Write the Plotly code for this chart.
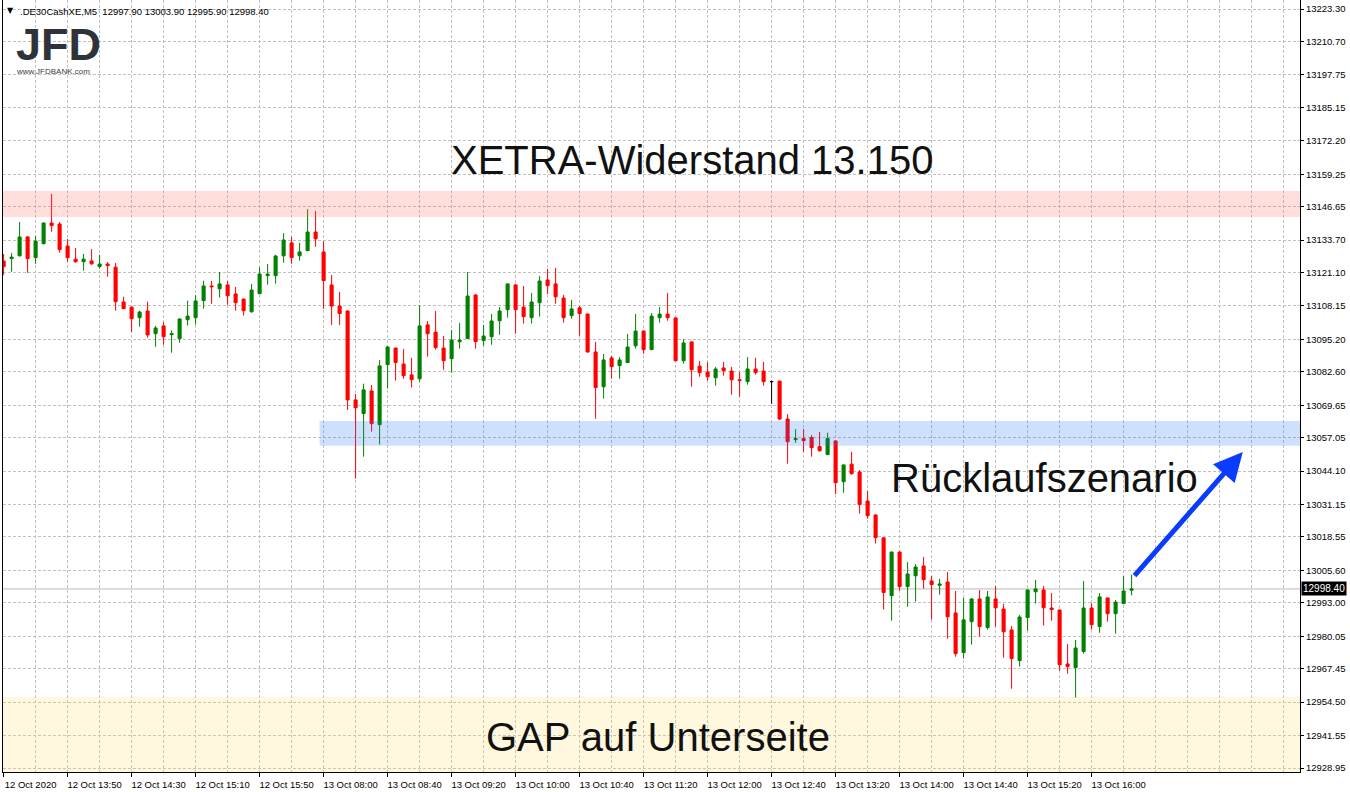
import plotly.graph_objects as go

# ---------------- data ----------------
opens = [13125.6, 13126.5, 13127.6, 13134.9, 13126.9, 13132.3, 13140.3, 13139.9, 13131.4, 13126.3,
         13125.3, 13125.6, 13123.4, 13124.4, 13123.2, 13109.7, 13107.7, 13103.6, 13106.2, 13097.4,
         13100.4, 13097.0, 13095.5, 13102.8, 13103.6, 13110.2, 13115.9, 13114.8, 13116.3, 13112.8,
         13110.8, 13105.9, 13112.9, 13119.9, 13119.9, 13127.6, 13132.6, 13127.6, 13129.6, 13136.8,
         13129.1, 13116.3, 13108.1, 13106.2, 13071.7, 13066.4, 13075.2, 13062.1, 13085.4, 13091.8,
         13085.6, 13081.4, 13079.9, 13100.8, 13098.0, 13091.8, 13087.7, 13094.3, 13095.5, 13112.4,
         13094.7, 13096.2, 13102.4, 13106.7, 13116.3, 13107.7, 13103.6, 13109.4, 13118.2, 13116.7,
         13111.2, 13104.4, 13107.4, 13105.0, 13090.3, 13076.8, 13088.0, 13085.0, 13086.2, 13092.7,
         13098.4, 13091.2, 13103.6, 13105.0, 13103.5, 13086.9, 13094.2, 13084.8, 13082.5, 13080.3,
         13084.1, 13082.9, 13079.5, 13078.8, 13083.7, 13082.9, 13078.8, 13079.0, 13064.3, 13056.3,
         13056.7, 13057.1, 13053.6, 13050.5, 13055.8, 13040.0, 13046.8, 13043.7, 13032.5, 13027.1,
         13018.2, 12995.8, 13012.7, 12999.3, 13003.5, 13007.3, 13001.5, 12999.8, 13001.1, 12989.1,
         12973.7, 12985.7, 12994.5, 12983.4, 12994.5, 12990.6, 12982.5, 12970.6, 12987.3, 12997.3,
         12998.0, 12991.0, 12990.2, 12969.3, 12967.9, 12974.1, 12991.0, 12983.8, 12994.9, 12988.8,
         12992.7, 12997.9]
highs = [13128.3, 13128.7, 13140.7, 13135.3, 13135.3, 13140.5, 13151.6, 13140.7, 13134.1, 13130.6,
         13128.3, 13130.2, 13128.0, 13125.2, 13124.8, 13111.7, 13107.9, 13106.3, 13109.8, 13100.4,
         13101.9, 13098.6, 13103.3, 13110.2, 13112.3, 13117.9, 13117.9, 13121.3, 13117.8, 13115.5,
         13111.0, 13116.7, 13123.2, 13124.4, 13128.0, 13136.4, 13134.9, 13132.6, 13145.7, 13145.0,
         13133.3, 13120.1, 13113.6, 13106.4, 13074.0, 13078.0, 13077.5, 13087.2, 13092.6, 13092.0,
         13091.5, 13088.0, 13108.4, 13102.3, 13106.2, 13096.5, 13098.8, 13101.5, 13121.3, 13112.8,
         13100.8, 13105.0, 13107.7, 13116.8, 13116.7, 13115.9, 13113.2, 13119.8, 13122.5, 13122.9,
         13112.4, 13110.5, 13108.1, 13105.2, 13094.2, 13089.5, 13088.7, 13088.3, 13097.3, 13105.0,
         13098.6, 13105.4, 13107.7, 13113.2, 13103.6, 13095.3, 13094.3, 13086.8, 13086.4, 13084.5,
         13086.4, 13084.5, 13082.5, 13088.3, 13088.0, 13086.4, 13079.2, 13079.1, 13066.2, 13060.4,
         13060.4, 13058.1, 13059.3, 13059.0, 13055.9, 13046.6, 13051.6, 13044.5, 13036.4, 13027.2,
         13018.3, 13012.9, 13012.9, 13008.8, 13008.1, 13010.8, 13003.4, 13002.3, 13005.0, 12997.6,
         12994.9, 12994.9, 12998.0, 12997.6, 12999.5, 12992.6, 12984.0, 12988.3, 12998.1, 13001.9,
         12999.5, 12996.8, 12990.4, 12977.0, 12978.6, 13001.5, 12992.9, 12996.8, 12995.0, 12994.1,
         13003.4, 13003.9]
lows = [13120.1, 13121.4, 13127.3, 13121.0, 13124.5, 13132.0, 13136.9, 13128.8, 13125.3, 13124.9,
        13121.8, 13124.1, 13122.6, 13119.5, 13106.3, 13106.9, 13098.0, 13100.1, 13095.8, 13092.3,
        13093.1, 13090.0, 13093.9, 13100.5, 13100.9, 13107.1, 13109.0, 13111.4, 13108.6, 13106.3,
        13104.4, 13105.5, 13112.7, 13116.4, 13116.8, 13124.9, 13124.5, 13125.7, 13129.4, 13131.1,
        13107.0, 13100.8, 13100.8, 13067.8, 13041.2, 13049.7, 13059.4, 13054.4, 13076.1, 13079.2,
        13079.9, 13076.5, 13078.8, 13088.5, 13091.2, 13083.4, 13082.3, 13091.6, 13095.3, 13091.6,
        13092.7, 13093.1, 13097.0, 13103.6, 13097.4, 13101.3, 13101.3, 13104.0, 13112.8, 13109.0,
        13101.7, 13103.2, 13096.6, 13090.0, 13064.4, 13072.2, 13079.9, 13079.9, 13086.0, 13091.6,
        13089.6, 13091.0, 13101.7, 13102.4, 13086.7, 13085.8, 13076.8, 13080.7, 13079.2, 13077.2,
        13081.1, 13073.7, 13073.0, 13077.6, 13081.5, 13077.2, 13070.2, 13063.9, 13047.0, 13055.1,
        13051.6, 13049.7, 13051.6, 13050.3, 13035.2, 13035.7, 13042.7, 13027.6, 13025.6, 13016.0,
        12990.4, 12986.1, 12997.7, 12991.5, 12993.5, 12998.5, 12986.5, 12996.2, 12979.1, 12972.1,
        12971.4, 12976.8, 12979.9, 12982.6, 12983.8, 12971.7, 12959.7, 12968.3, 12982.2, 12992.7,
        12984.2, 12986.1, 12966.7, 12965.5, 12956.2, 12973.3, 12982.6, 12981.4, 12985.7, 12981.1,
        12992.5, 12995.9]
closes = [13123.4, 13127.1, 13134.9, 13126.5, 13133.3, 13140.3, 13139.3, 13130.0, 13126.9, 13125.3,
          13126.3, 13124.5, 13124.4, 13123.8, 13109.8, 13107.1, 13103.2, 13105.8, 13096.9, 13099.6,
          13096.2, 13097.4, 13103.1, 13104.2, 13110.1, 13115.9, 13115.6, 13116.7, 13112.1, 13109.4,
          13106.3, 13114.3, 13120.5, 13120.5, 13127.5, 13133.7, 13126.9, 13129.1, 13136.8, 13134.2,
          13118.0, 13108.1, 13105.2, 13071.7, 13068.7, 13075.6, 13062.5, 13084.9, 13092.2, 13086.2,
          13081.1, 13079.6, 13100.4, 13097.4, 13092.0, 13086.9, 13094.9, 13094.9, 13112.0, 13094.3,
          13096.5, 13102.3, 13106.2, 13116.7, 13106.7, 13104.0, 13109.7, 13117.8, 13116.0, 13111.7,
          13103.6, 13107.0, 13105.2, 13090.3, 13076.5, 13087.2, 13084.6, 13087.2, 13092.2, 13098.4,
          13091.2, 13104.2, 13105.0, 13103.6, 13086.9, 13093.8, 13083.4, 13082.3, 13080.7, 13083.7,
          13083.0, 13079.5, 13079.2, 13083.7, 13082.3, 13078.8, 13078.8, 13064.3, 13055.5, 13056.7,
          13055.9, 13053.2, 13052.0, 13056.7, 13039.6, 13046.5, 13043.1, 13031.1, 13026.8, 13018.3,
          12997.0, 13012.7, 12999.3, 13004.2, 13006.9, 13002.0, 13000.1, 13000.3, 12987.6, 12973.3,
          12986.4, 12994.5, 12983.8, 12995.3, 12991.1, 12981.8, 12971.4, 12987.5, 12998.0, 12998.4,
          12991.1, 12990.4, 12969.0, 12968.3, 12975.5, 12991.0, 12984.5, 12995.3, 12988.8, 12993.3,
          12997.6, 12998.4]

time_labels = ["12 Oct 2020", "12 Oct 13:50", "12 Oct 14:30", "12 Oct 15:10", "12 Oct 15:50",
               "13 Oct 08:00", "13 Oct 08:40", "13 Oct 09:20", "13 Oct 10:00", "13 Oct 10:40",
               "13 Oct 11:20", "13 Oct 12:00", "13 Oct 12:40", "13 Oct 13:20", "13 Oct 14:00",
               "13 Oct 14:40", "13 Oct 15:20", "13 Oct 16:00"]
bars_per_label = 8
bars_per_grid = 4
empty_bars_right = 21

price_ticks = [13223.30, 13210.70, 13197.75, 13185.15, 13172.20, 13159.25, 13146.65, 13133.70,
               13121.10, 13108.15, 13095.20, 13082.60, 13069.65, 13057.05, 13044.10, 13031.15,
               13018.55, 13005.60, 12993.00, 12980.05, 12967.45, 12954.50, 12941.55, 12928.95]
price_range = [12927.4, 13226.8]

symbol = ".DE30CashXE,M5"
resistance_zone = [13142.6, 13152.7]
support_zone = [13053.9, 13063.5]
support_zone_start_bar = 39.5
gap_zone_top = 12956.5
arrow_tail = [141.2, 13003.0]
arrow_head = [154.9, 13051.5]

# ---------------- figure ----------------
bars = list(range(len(opens)))
x_range = [-0.075, len(opens) - 1 + empty_bars_right + 0.05]

UP, DOWN, DOJI = "#008000", "#ff0000", "#000000"


def subset(cond):
    idx = [i for i in bars if cond(i)]
    return ([bars[i] for i in idx], [opens[i] for i in idx], [highs[i] for i in idx],
            [lows[i] for i in idx], [closes[i] for i in idx])


fig = go.Figure()
for cond, col in [(lambda i: closes[i] > opens[i], UP),
                  (lambda i: closes[i] < opens[i], DOWN),
                  (lambda i: closes[i] == opens[i], DOJI)]:
    xs, o, h, l, c = subset(cond)
    style = dict(line=dict(color=col, width=1), fillcolor=col)
    fig.add_trace(go.Candlestick(x=xs, open=o, high=h, low=l, close=c,
                                 increasing=style, decreasing=style,
                                 whiskerwidth=0, showlegend=False, hoverinfo="skip"))

# current price line
fig.add_shape(type="line", xref="paper", x0=0, x1=1, yref="y", y0=closes[-1], y1=closes[-1],
              line=dict(color="#b8b8b8", width=1), layer="below")

# zones (drawn translucent over the candles)
fig.add_shape(type="rect", xref="paper", x0=0, x1=1, yref="y",
              y0=resistance_zone[0], y1=resistance_zone[1],
              fillcolor="rgba(255,105,95,0.22)", line_width=0, layer="above")
fig.add_shape(type="rect", xref="x", x0=support_zone_start_bar, x1=x_range[1], yref="y",
              y0=support_zone[0], y1=support_zone[1],
              fillcolor="rgba(36,114,240,0.22)", line_width=0, layer="above")
fig.add_shape(type="rect", xref="paper", x0=0, x1=1, yref="y",
              y0=price_range[0], y1=gap_zone_top,
              fillcolor="rgba(255,218,105,0.22)", line_width=0, layer="above")

TXT = dict(family="Liberation Sans, Arial, sans-serif", size=40, color="#111111")
for txt, px, py in [("XETRA-Widerstand 13.150", 0.5316, 0.7927),
                    ("Rücklaufszenario", 0.803, 0.381),
                    ("GAP auf Unterseite", 0.505, 0.0453)]:
    fig.add_annotation(text=txt, xref="paper", yref="paper", x=px, y=py,
                       xanchor="center", yanchor="middle", showarrow=False, font=TXT)

# arrow
fig.add_annotation(x=arrow_head[0], y=arrow_head[1], ax=arrow_tail[0], ay=arrow_tail[1],
                   xref="x", yref="y", axref="x", ayref="y", text="", showarrow=True,
                   arrowhead=2, arrowsize=1.15, arrowwidth=5, arrowcolor="#0a3cff")

# current price label
fig.add_annotation(text=f"{closes[-1]:.2f}", xref="paper", yref="y", x=1, y=closes[-1],
                   xanchor="left", yanchor="middle", xshift=1, showarrow=False,
                   bgcolor="#000000", borderpad=1,
                   font=dict(family="Liberation Sans, Arial", size=10, color="#ffffff"))

# symbol header
header = f"{symbol}  {opens[-1]:.2f} {highs[-1]:.2f} {lows[-1]:.2f} {closes[-1]:.2f}"
fig.add_annotation(text="▼", xref="paper", yref="paper", x=0.0015, y=1, yshift=-4,
                   xanchor="left", yanchor="top", showarrow=False,
                   font=dict(family="DejaVu Sans", size=8, color="#000000"))
fig.add_annotation(text=header, xref="paper", yref="paper", x=0.0115, y=1, yshift=-4,
                   xanchor="left", yanchor="top", showarrow=False,
                   font=dict(family="Liberation Sans, Arial", size=9.5, color="#000000"))

# JFD logo
fig.add_annotation(text="<b>JFD</b>", xref="paper", yref="paper", x=0.0085, y=0.9424,
                   xanchor="left", yanchor="middle", valign="middle", height=36,
                   showarrow=False,
                   font=dict(family="Liberation Sans, Arial", size=45, color="#2d3339"))
fig.add_annotation(text="www.JFDBANK.com", xref="paper", yref="paper", x=0.0085, y=0.9080,
                   xanchor="left", yanchor="middle", showarrow=False,
                   font=dict(family="Liberation Sans, Arial", size=8, color="#3a3f45"))

GRID = "#c0c0c0"
label_pos = [i * bars_per_label for i in range(len(time_labels))]
grid_pos = list(range(0, int(x_range[1]) + 1, bars_per_grid))

fig.update_layout(
    width=1350, height=792,
    margin=dict(l=3, r=50, t=0, b=20),
    paper_bgcolor="white", plot_bgcolor="white",
    boxgap=0.45,
    xaxis=dict(range=x_range, rangeslider=dict(visible=False),
               tickmode="array", tickvals=label_pos, ticktext=time_labels,
               ticks="outside", ticklen=4, tickcolor="#000000", ticklabelshift=27,
               tickfont=dict(family="Liberation Sans, Arial", size=9.5, color="#000000"),
               showgrid=True, gridcolor=GRID, griddash="3px,2px", gridwidth=1,
               minor=dict(tickvals=grid_pos, showgrid=True, gridcolor=GRID,
                          griddash="3px,2px", gridwidth=1, ticks=""),
               showline=True, linecolor="#000000", linewidth=1, mirror=True,
               zeroline=False, fixedrange=True),
    yaxis=dict(range=price_range, side="right",
               tickmode="array", tickvals=price_ticks,
               ticktext=[f"{v:.2f}" for v in price_ticks],
               ticks="outside", ticklen=3, tickcolor="#000000",
               tickfont=dict(family="Liberation Sans, Arial", size=9.5, color="#000000"),
               showgrid=True, gridcolor=GRID, griddash="3px,2px", gridwidth=1,
               showline=True, linecolor="#000000", linewidth=1, mirror=True,
               zeroline=False, fixedrange=True),
)

fig.write_html("out.html", config={"displayModeBar": False},
               post_script="document.body.style.margin='0';")
